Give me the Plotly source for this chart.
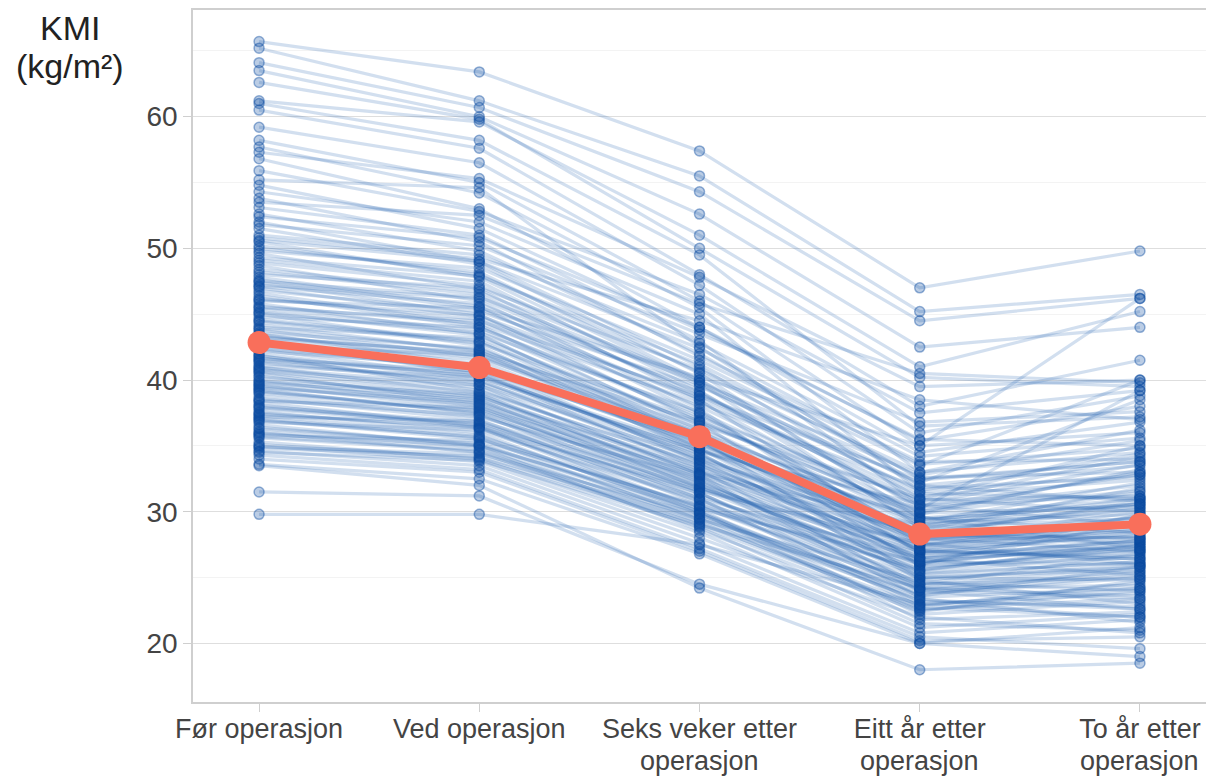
import plotly.graph_objects as go

timepoints_line1 = ["Før operasjon", "Ved operasjon", "Seks veker etter",
                    "Eitt år etter", "To år etter"]
timepoints_line2 = ["", "", "operasjon", "operasjon", "operasjon"]

# Individual patients' BMI (kg/m²), one list per time point (aligned by patient)
bmi_for = [65.7, 65.2, 64.1, 63.5, 62.6, 61.2, 61.0, 60.5, 59.2, 58.2,
           57.7, 57.3, 56.8, 55.9, 55.2, 54.8, 54.3, 53.8, 53.1, 52.6,
           52.0, 51.5, 51.0, 50.5, 50.0, 49.6, 49.1, 48.7, 48.2, 47.8,
           47.4, 47.0, 46.6, 46.2, 45.8, 45.4, 45.0, 44.6, 44.2, 43.8,
           43.5, 43.1, 42.8, 42.4, 42.0, 41.7, 41.3, 41.0, 40.6, 40.3,
           40.0, 39.6, 39.3, 39.0, 38.6, 38.3, 38.0, 37.6, 37.3, 37.0,
           36.6, 36.3, 36.0, 35.6, 35.3, 35.0, 34.6, 34.3, 34.0, 33.6,
           33.5, 31.5, 29.8, 48.0, 46.8, 44.8, 43.3, 42.2, 41.5, 40.8,
           39.8, 38.8, 37.8, 36.8, 45.6, 47.2, 49.8, 51.8, 44.0, 42.6,
           41.1, 39.4, 37.4, 35.8, 34.8, 50.8, 53.5, 46.0, 44.5, 43.0,
           41.9, 40.5, 39.2, 38.1, 37.1, 36.1, 47.6, 46.4, 45.2, 43.6,
           42.3, 40.9, 39.9, 38.4, 37.2, 35.9, 34.9, 48.9, 50.2, 52.4,
           49.3, 48.4, 47.1, 46.1, 45.1, 44.4, 43.9, 43.4, 42.9, 42.5,
           41.8, 41.4, 40.7, 40.2, 39.7, 39.1, 38.5, 37.9, 37.5, 36.9,
           36.4, 35.7, 35.1, 34.5, 50.6, 47.5, 45.5, 43.2, 41.6, 39.5]
bmi_ved = [63.4, 61.2, 60.7, 60.0, 59.8, 59.6, 58.2, 57.6, 56.5, 55.0,
           54.2, 55.3, 53.0, 52.8, 54.6, 51.5, 52.0, 50.5, 51.0, 49.8,
           49.0, 48.8, 49.5, 47.8, 48.2, 46.9, 47.5, 46.0, 46.5, 45.6,
           45.0, 44.8, 44.2, 44.6, 43.5, 43.8, 42.6, 43.0, 42.2, 41.8,
           41.2, 41.5, 40.6, 40.8, 40.0, 39.6, 39.8, 39.0, 38.8, 38.5,
           38.0, 37.8, 37.4, 37.6, 37.0, 36.5, 36.8, 36.0, 35.8, 35.5,
           35.0, 35.2, 34.5, 34.6, 34.0, 33.8, 33.5, 33.2, 33.0, 32.5,
           32.0, 31.2, 29.8, 47.0, 45.2, 44.0, 42.0, 41.0, 40.5, 39.4,
           38.6, 37.2, 36.6, 36.2, 44.3, 46.2, 48.5, 50.2, 43.2, 41.9,
           40.2, 38.3, 36.4, 35.4, 34.2, 49.2, 52.5, 45.5, 42.9, 40.4,
           39.2, 38.2, 37.5, 36.4, 35.6, 34.9, 45.4, 44.0, 43.4, 42.4,
           40.2, 39.6, 38.9, 37.9, 36.9, 35.0, 34.4, 47.2, 48.0, 50.8,
           47.9, 46.7, 45.8, 44.9, 43.6, 42.8, 42.3, 41.7, 41.1, 40.9,
           40.3, 39.9, 39.1, 38.7, 38.4, 37.7, 37.3, 36.7, 36.3, 35.7,
           35.1, 34.7, 34.1, 33.9, 49.0, 46.3, 44.5, 42.1, 40.7, 38.1]
bmi_seks = [57.4, 55.5, 54.3, 52.6, 50.0, 51.0, 49.5, 48.0, 47.2, 46.0,
            45.5, 47.8, 44.0, 46.5, 42.5, 43.8, 45.0, 41.8, 43.0, 42.0,
            41.0, 40.5, 42.8, 39.8, 40.0, 38.5, 39.2, 37.8, 38.8, 37.5,
            36.8, 38.0, 36.2, 37.0, 35.5, 36.5, 34.8, 35.8, 34.5, 35.2,
            33.8, 34.8, 33.2, 34.0, 33.5, 32.8, 33.9, 32.2, 32.5, 31.8,
            31.5, 31.9, 31.0, 32.0, 30.6, 30.2, 31.2, 29.8, 30.0, 30.4,
            29.2, 29.6, 28.8, 29.0, 28.4, 28.0, 27.6, 27.2, 27.0, 26.8,
            24.2, 24.5, 27.5, 40.8, 39.5, 37.2, 36.0, 35.0, 34.2, 33.0,
            33.2, 32.6, 31.0, 30.8, 38.2, 39.0, 41.5, 43.5, 36.6, 35.6,
            34.6, 32.9, 31.6, 30.5, 29.4, 44.5, 45.8, 40.2, 35.4, 34.4,
            33.6, 32.4, 31.4, 30.0, 29.4, 28.6, 38.4, 37.4, 36.0, 35.6,
            34.6, 34.0, 33.0, 32.8, 31.8, 30.2, 29.8, 39.6, 40.6, 44.0,
            41.2, 40.0, 39.1, 38.6, 37.6, 36.9, 36.3, 35.9, 35.3, 35.1,
            34.8, 34.3, 33.7, 33.4, 32.7, 32.3, 31.7, 31.4, 30.9, 30.4,
            29.9, 29.5, 29.1, 28.9, 42.4, 39.8, 38.8, 36.8, 35.4, 32.1]
bmi_eitt = [47.0, 45.2, 44.5, 42.5, 40.2, 41.0, 36.5, 38.0, 36.0, 35.0,
            33.0, 39.5, 34.5, 37.5, 32.0, 35.5, 31.5, 33.8, 30.5, 32.5,
            31.0, 29.5, 34.2, 28.8, 30.2, 27.5, 29.0, 26.8, 31.2, 28.2,
            25.9, 30.0, 27.0, 29.2, 25.0, 28.5, 26.2, 27.8, 24.8, 28.0,
            26.5, 27.2, 24.2, 26.0, 27.5, 23.5, 28.2, 25.2, 24.5, 26.8,
            23.0, 25.8, 22.8, 27.0, 24.0, 22.2, 25.5, 23.2, 21.8, 24.5,
            22.5, 23.8, 21.5, 24.2, 21.2, 22.0, 20.8, 20.5, 20.2, 20.0,
            18.0, 20.0, 23.0, 33.0, 32.2, 30.8, 29.8, 28.6, 27.8, 29.0,
            27.2, 26.0, 26.5, 25.0, 31.8, 30.5, 33.5, 36.8, 31.0, 30.2,
            29.6, 28.4, 27.6, 25.6, 24.8, 38.5, 40.5, 35.0, 27.0, 26.4,
            25.4, 25.0, 24.2, 23.6, 22.6, 22.4, 29.4, 28.2, 27.4, 29.2,
            30.6, 28.8, 26.2, 27.4, 26.0, 26.2, 23.4, 31.6, 32.0, 35.4,
            32.6, 31.4, 30.4, 30.9, 29.6, 29.9, 28.9, 28.0, 27.6, 28.3,
            27.9, 27.1, 26.9, 26.6, 26.4, 25.6, 25.3, 24.6, 24.4, 24.1,
            23.7, 23.3, 22.9, 22.7, 33.6, 32.8, 32.4, 30.0, 29.4, 24.0]
bmi_to = [49.8, 46.5, 46.2, 44.0, 39.5, 45.2, 37.2, 41.5, 38.8, 36.0,
          34.5, 40.0, 36.8, 39.2, 33.5, 35.0, 32.8, 34.0, 31.2, 33.8,
          30.0, 31.0, 35.6, 29.5, 32.0, 28.6, 30.4, 27.2, 32.4, 28.0,
          26.5, 31.6, 28.5, 29.8, 25.8, 30.2, 27.5, 28.9, 26.0, 29.6,
          27.0, 28.2, 25.5, 27.8, 29.0, 24.2, 30.8, 26.2, 25.0, 28.4,
          23.8, 27.0, 24.6, 26.4, 25.4, 23.2, 27.6, 22.8, 22.4, 26.8,
          24.0, 25.2, 21.0, 23.6, 22.2, 20.8, 21.8, 19.6, 20.5, 21.2,
          18.5, 19.0, 22.0, 36.2, 38.5, 34.2, 33.2, 31.8, 30.0, 31.5,
          28.8, 29.2, 27.8, 24.8, 32.6, 29.0, 40.0, 37.6, 35.0, 39.2,
          27.2, 30.6, 26.0, 27.4, 23.0, 37.0, 39.8, 46.2, 26.6, 28.0,
          26.8, 25.6, 24.4, 25.8, 23.4, 24.8, 30.6, 27.6, 29.4, 32.2,
          33.6, 30.2, 27.4, 28.6, 29.8, 26.0, 21.6, 34.4, 30.8, 38.0,
          33.0, 31.0, 32.8, 31.2, 28.4, 30.4, 31.0, 27.0, 29.6, 28.0,
          29.0, 26.4, 28.2, 27.8, 25.2, 27.2, 26.2, 24.0, 25.8, 23.4,
          25.0, 22.6, 24.2, 22.0, 34.8, 35.4, 33.8, 33.0, 30.6, 22.6]

# Group mean per time point
bmi_mean = [42.85, 40.95, 35.7, 28.3, 29.05]

y_ticks = [20, 30, 40, 50, 60]
y_minor = [25, 35, 45, 55, 65]

x_idx = list(range(len(timepoints_line1)))

FONT = "Liberation Sans, Arial, sans-serif"
LABEL_COLOR = "#444444"

fig = go.Figure()

for p in range(len(bmi_for)):
    ys = [bmi_for[p], bmi_ved[p], bmi_seks[p], bmi_eitt[p], bmi_to[p]]
    fig.add_trace(go.Scatter(
        x=x_idx, y=ys, mode="lines+markers",
        line=dict(color="rgba(30,96,176,0.20)", width=3.2),
        marker=dict(size=10, color="rgba(10,74,160,0.28)",
                    line=dict(color="rgba(10,74,160,0.42)", width=1.5)),
        hoverinfo="skip", showlegend=False,
    ))

fig.add_trace(go.Scatter(
    x=x_idx, y=bmi_mean, mode="lines+markers",
    line=dict(color="#f96f5b", width=8),
    marker=dict(size=23, color="#f96f5b"),
    showlegend=False,
))

fig.update_layout(
    width=1214, height=776,
    margin=dict(l=185, r=16, t=2, b=82, autoexpand=False),
    paper_bgcolor="white", plot_bgcolor="white",
    font=dict(family=FONT, color=LABEL_COLOR),
    showlegend=False,
)

fig.update_xaxes(
    range=[-0.3, 4.3],
    tickmode="array", tickvals=x_idx, ticktext=timepoints_line1,
    tickfont=dict(size=27, color=LABEL_COLOR),
    ticklabelstandoff=-6,
    showgrid=False, zeroline=False,
    showline=True, linecolor="#cfcfcf", linewidth=1.5, mirror=True,
    ticks="outside", ticklen=8, tickcolor="#cfcfcf",
    automargin=False,
)

fig.update_yaxes(
    range=[15.55, 68.1],
    tickmode="array", tickvals=y_ticks,
    tickfont=dict(size=28, color=LABEL_COLOR),
    showgrid=True, gridcolor="#dedede", gridwidth=1,
    minor=dict(tickvals=y_minor, showgrid=True,
               gridcolor="#f3f3f3", gridwidth=1),
    zeroline=False,
    showline=True, linecolor="#cfcfcf", linewidth=1.5, mirror=True,
    ticks="outside", ticklen=8, tickcolor="#cfcfcf",
    automargin=False,
)

# second line of the category labels, set tight under the first line
for i, txt in enumerate(timepoints_line2):
    if txt:
        fig.add_annotation(
            text=txt, xref="x", yref="paper", x=x_idx[i], y=0,
            xanchor="center", yanchor="top", yshift=-42,
            showarrow=False, font=dict(size=27, color=LABEL_COLOR, family=FONT),
        )

# y-axis title in the top-left corner
fig.add_annotation(
    text="KMI", xref="paper", yref="paper",
    x=-0.1214, y=1.0, xanchor="center", yanchor="top", yshift=3,
    showarrow=False, font=dict(size=34, color="#222222", family=FONT),
)
fig.add_annotation(
    text="(kg/m²)", xref="paper", yref="paper",
    x=-0.1214, y=1.0, xanchor="center", yanchor="top", yshift=-35,
    showarrow=False, font=dict(size=34, color="#222222", family=FONT),
)

fig.write_html("out.html")
